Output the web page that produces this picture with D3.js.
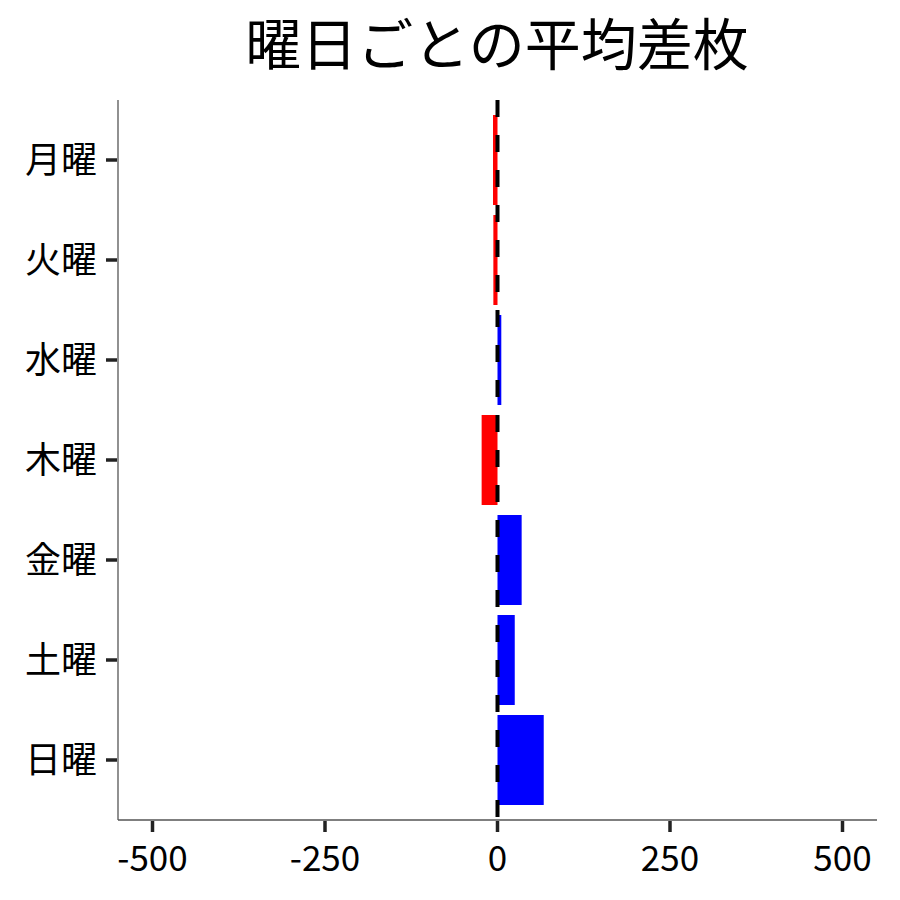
<!DOCTYPE html>
<html><head><meta charset="utf-8">
<script src="https://cdn.jsdelivr.net/npm/d3@7"></script>
<style>body{margin:0;background:#fff;} svg{display:block;}</style>
</head><body>
<script>
const days = ["月曜","火曜","水曜","木曜","金曜","土曜","日曜"];
const values = [-6.5, -6, 5.5, -23, 35, 25, 67];
const xTicks = [-500, -250, 0, 250, 500];
const title = "曜日ごとの平均差枚";

const W = 900, H = 900;
const font = "'Noto Sans CJK JP','Noto Sans',sans-serif";
const svg = d3.select("body").append("svg").attr("width", W).attr("height", H);

const mLeft = 118, mRight = 877, mTop = 100, mBottom = 820;
const x = d3.scaleLinear().domain([-550, 550]).range([mLeft, mRight]);
const y = d3.scaleLinear().domain([-0.6, days.length - 0.4]).range([mTop, mBottom]);
const barH = y(0.9) - y(0);

svg.append("text").attr("x", 497).attr("y", 65).attr("text-anchor", "middle")
  .attr("font-family", font).attr("font-size", 56).attr("fill", "#000").text(title);

svg.selectAll("rect.bar").data(values).join("rect").attr("class", "bar")
  .attr("x", d => x(Math.min(0, d)))
  .attr("width", d => Math.abs(x(d) - x(0)))
  .attr("y", (d, i) => y(i) - barH / 2)
  .attr("height", barH)
  .attr("fill", d => d < 0 ? "#ff0000" : "#0000ff");

svg.append("line").attr("x1", x(0)).attr("x2", x(0)).attr("y1", mTop).attr("y2", mBottom)
  .attr("stroke", "#000").attr("stroke-width", 4).attr("stroke-dasharray", "17,18");

// spines
svg.append("line").attr("x1", mLeft).attr("x2", mLeft).attr("y1", mTop).attr("y2", mBottom)
  .attr("stroke", "#555").attr("stroke-width", 1.3);
svg.append("line").attr("x1", mLeft).attr("x2", mRight).attr("y1", mBottom).attr("y2", mBottom)
  .attr("stroke", "#555").attr("stroke-width", 1.3);

// y axis
const yg = svg.append("g");
days.forEach((d, i) => {
  yg.append("line").attr("x1", mLeft - 12).attr("x2", mLeft - 1).attr("y1", y(i)).attr("y2", y(i))
    .attr("stroke", "#222").attr("stroke-width", 3.5);
  yg.append("text").attr("x", 97).attr("y", y(i)).attr("dy", "0.36em").attr("text-anchor", "end")
    .attr("font-family", font).attr("font-size", 36).attr("fill", "#000").text(d);
});

// x axis
const xg = svg.append("g");
xTicks.forEach(t => {
  xg.append("line").attr("x1", x(t)).attr("x2", x(t)).attr("y1", mBottom + 1).attr("y2", mBottom + 12)
    .attr("stroke", "#222").attr("stroke-width", 3.5);
  xg.append("text").attr("x", x(t)).attr("y", 871).attr("text-anchor", "middle")
    .attr("font-family", font).attr("font-size", 35).attr("fill", "#000").text(t);
});
</script>
</body></html>
